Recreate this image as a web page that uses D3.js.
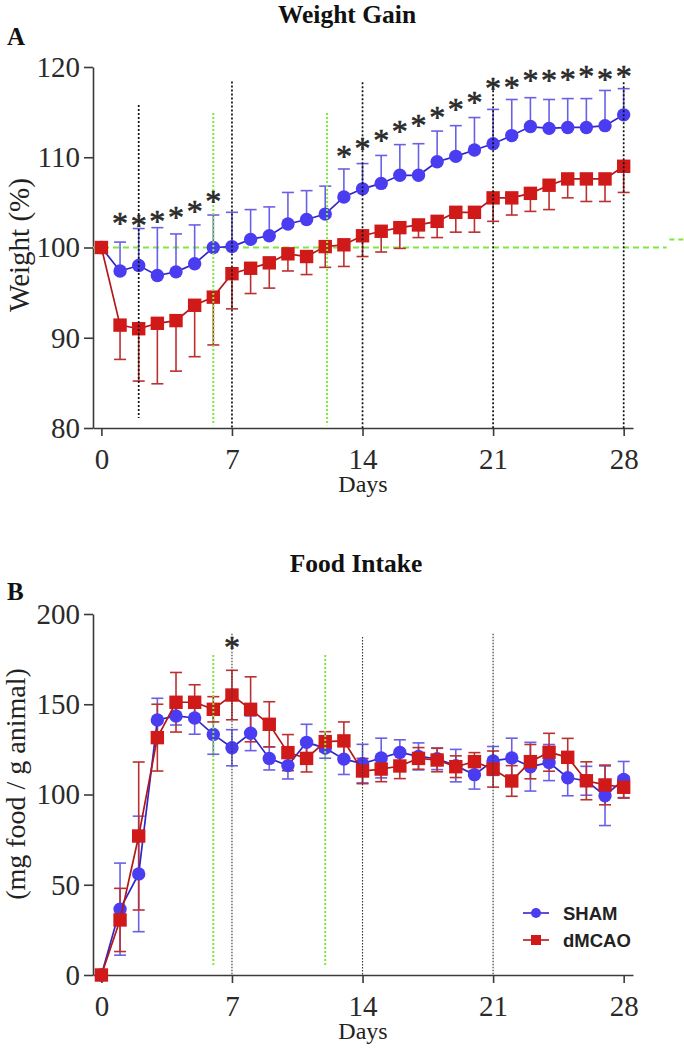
<!DOCTYPE html>
<html>
<head>
<meta charset="utf-8">
<script src="https://cdn.jsdelivr.net/npm/d3@7"></script>
<style>
  html, body { margin: 0; padding: 0; background: #fff; }
  svg { display: block; }
</style>
</head>
<body>
<svg id="chart" width="684" height="1050"></svg>
<script>
// ---------------- DATA ----------------
const days = [0,1,2,3,4,5,6,7,8,9,10,11,12,13,14,15,16,17,18,19,20,21,22,23,24,25,26,27,28];
const xTicks = [0, 7, 14, 21, 28];
const seriesNames = ["SHAM", "dMCAO"];

// Panel A: Weight (%)
const weightSham = [100, 97.4, 98.0, 96.9, 97.3, 98.2, 100.0, 100.1, 100.9, 101.3, 102.6, 103.1, 103.7, 105.6, 106.5, 107.1, 108.0, 108.0, 109.5, 110.1, 110.8, 111.5, 112.4, 113.4, 113.2, 113.3, 113.3, 113.5, 114.7];
const weightShamErr = [0, 3.2, 4.1, 5.3, 4.2, 4.3, 3.6, 3.8, 3.3, 3.2, 3.5, 3.2, 3.1, 3.1, 2.8, 3.1, 3.4, 3.5, 3.4, 3.4, 3.6, 3.8, 4.0, 3.2, 3.2, 3.2, 3.2, 3.9, 2.9];
const weightMcao = [100, 91.4, 91.0, 91.6, 91.9, 93.6, 94.5, 97.1, 97.7, 98.3, 99.3, 99.0, 100.1, 100.3, 101.3, 101.8, 102.2, 102.5, 102.9, 103.9, 103.9, 105.5, 105.5, 106.0, 106.9, 107.6, 107.6, 107.6, 109.0];
const weightMcaoErr = [0, 3.8, 5.8, 6.7, 5.6, 5.7, 5.3, 3.9, 2.8, 2.8, 1.9, 2.0, 2.3, 2.4, 2.3, 2.3, 2.3, 1.4, 1.8, 2.2, 2.2, 2.6, 1.9, 2.0, 2.7, 2.1, 2.5, 2.5, 2.9];
const weightTicks = [80, 90, 100, 110, 120];
const weightSigDays = [1, 2, 3, 4, 5, 6, 13, 14, 15, 16, 17, 18, 19, 20, 21, 22, 23, 24, 25, 26, 27, 28];
const weightSigLevel = [103.2, 103.0, 103.4, 103.9, 104.5, 105.6, 110.6, 111.5, 112.4, 113.4, 114.1, 115.0, 115.9, 116.6, 118.2, 118.3, 119.1, 119.1, 119.2, 119.5, 119.2, 119.5];
const weightBlackLineDays = [2, 7, 14, 21, 28];
const weightBlackLineTop = [115.8, 118.4, 118.3, 118.3, 118.3];
const weightBlackLineBottom = [81.1, 80, 80, 80, 80];
const weightGreenLineDays = [6, 12.1];
const weightGreenTop = 114.9, weightGreenBottom = 80.3;
const weightBaseline = 100;
const weightBaselineSpan = [-0.45, 30.3];
const weightBaselineStub = [30.45, 31.2, 100.9];

// Panel B: Food intake (mg food / g animal)
const foodSham = [0, 36.5, 56.0, 141.3, 143.5, 142.4, 133.3, 125.9, 133.9, 120.0, 116.0, 128.9, 125.7, 119.6, 117.1, 120.2, 123.3, 121.1, 119.8, 116.0, 111.0, 118.6, 120.2, 115.4, 117.7, 109.3, 107.6, 99.3, 108.3];
const foodShamErr = [0, 25.5, 32, 12, 5, 9, 11, 10, 9.6, 6.4, 7.4, 10, 5.6, 8.5, 10.7, 11, 7, 7.5, 6, 9, 8, 8, 11, 13.5, 10, 10, 8, 16.5, 10];
const foodMcao = [0, 30.5, 77.0, 131.5, 151.1, 151.1, 147.2, 155.1, 147.2, 138.9, 123.2, 120.0, 129.3, 129.7, 113.0, 114.1, 115.8, 120.0, 119.1, 115.4, 118.2, 114.1, 107.5, 118.2, 123.4, 120.6, 107.6, 105.3, 104.0];
const foodMcaoErr = [0, 17.5, 41, 18.5, 16.5, 9.7, 7, 13.7, 18, 12.5, 10, 7.5, 5.5, 10.5, 7, 7, 7, 6, 6.5, 6, 5, 10, 8.5, 9.5, 10.5, 10.5, 10.5, 11, 6];
const foodTicks = [0, 50, 100, 150, 200];
const foodSigDays = [7];
const foodSigLevel = [184];
const foodBlackLineDays = [7, 14, 21];
const foodBlackLineTop = [189, 187.3, 189];
const foodGreenLineDays = [6, 12];
const foodGreenTop = 177.3, foodGreenBottom = 5;

// ---------------- STYLE ----------------
const SERIF = "'Liberation Serif', 'Times New Roman', serif";
const SANS = "'Liberation Sans', Arial, sans-serif";
const BLUE = "#4a3cf0", BLUE_LINE = "#3326c8", BLUE_ERR = "#6a60e6";
const RED = "#d01a1a", RED_LINE = "#b21818", RED_ERR = "#bb3030";
const GREEN = "#7ee83c";
const AXIS = "#3a3a3a";

const svg = d3.select("#chart");

function panel(cfg) {
  const x = d3.scaleLinear().domain([-0.45, 28.5]).range([93, 633]);
  const y = d3.scaleLinear().domain(cfg.yDomain).range([cfg.yBottom, cfg.yTop]);
  const g = svg.append("g");

  // Title and panel letter
  g.append("text").attr("x", cfg.titleX).attr("y", cfg.titleY)
    .attr("text-anchor", "middle").attr("font-family", SERIF)
    .attr("font-weight", "bold").attr("font-size", 25.5).attr("fill", "#111")
    .text(cfg.title);
  g.append("text").attr("x", 7).attr("y", cfg.letterY)
    .attr("font-family", SERIF).attr("font-weight", "bold")
    .attr("font-size", 25).attr("fill", "#111").text(cfg.letter);

  // Axes
  const yAxis = g.append("g").attr("transform", "translate(93,0)")
    .call(d3.axisLeft(y).tickValues(cfg.yTicks).tickSize(9).tickSizeOuter(0).tickPadding(4));
  const xAxis = g.append("g").attr("transform", `translate(0,${cfg.yBottom})`)
    .call(d3.axisBottom(x).tickValues(xTicks).tickSize(8).tickSizeOuter(0).tickPadding(12));
  [yAxis, xAxis].forEach(a => {
    a.selectAll("path, line").attr("stroke", AXIS).attr("stroke-width", 1.6);
    a.selectAll("text").attr("font-family", SERIF).attr("font-size", 29).attr("fill", "#2a2a2a");
  });

  // Axis titles
  g.append("text").attr("x", 363).attr("y", cfg.yBottom + 64)
    .attr("text-anchor", "middle").attr("font-family", SERIF)
    .attr("font-size", 24).attr("fill", "#222").text("Days");
  g.append("text")
    .attr("transform", `translate(${cfg.yLabelX},${cfg.yLabelY}) rotate(-90)`)
    .attr("text-anchor", "middle").attr("font-family", SERIF)
    .attr("font-size", cfg.yLabelSize).attr("fill", "#222").text(cfg.yLabel);

  // horizontal baseline (panel A)
  if (cfg.baseline !== undefined) {
    g.append("line")
      .attr("x1", x(cfg.baselineSpan[0])).attr("x2", x(cfg.baselineSpan[1]))
      .attr("y1", y(cfg.baseline)).attr("y2", y(cfg.baseline))
      .attr("stroke", GREEN).attr("stroke-width", 2.2).attr("stroke-dasharray", "6,4");
    g.append("line")
      .attr("x1", x(cfg.baselineStub[0])).attr("x2", x(cfg.baselineStub[1]))
      .attr("y1", y(cfg.baselineStub[2])).attr("y2", y(cfg.baselineStub[2]))
      .attr("stroke", GREEN).attr("stroke-width", 2).attr("stroke-dasharray", "5,4");
  }

  const series = [
    { name: seriesNames[0], mean: cfg.sham, err: cfg.shamErr, dir: cfg.shamDir, color: BLUE, line: BLUE_LINE, errc: BLUE_ERR, shape: "circle" },
    { name: seriesNames[1], mean: cfg.mcao, err: cfg.mcaoErr, dir: cfg.mcaoDir, color: RED, line: RED_LINE, errc: RED_ERR, shape: "square" }
  ];

  series.forEach(s => {
    const pts = days.map((d, i) => ({ day: d, v: s.mean[i], e: s.err[i] }));
    const eb = g.append("g").attr("stroke", s.errc).attr("stroke-width", 1.6).attr("fill", "none");
    pts.filter(p => p.e > 0).forEach(p => {
      const up = s.dir.includes("up") ? p.v + p.e : p.v;
      const lo = s.dir.includes("down") ? p.v - p.e : p.v;
      eb.append("line").attr("x1", x(p.day)).attr("x2", x(p.day)).attr("y1", y(up)).attr("y2", y(lo));
      if (s.dir.includes("up"))
        eb.append("line").attr("x1", x(p.day) - 6).attr("x2", x(p.day) + 6).attr("y1", y(up)).attr("y2", y(up));
      if (s.dir.includes("down"))
        eb.append("line").attr("x1", x(p.day) - 6).attr("x2", x(p.day) + 6).attr("y1", y(lo)).attr("y2", y(lo));
    });
    s.pts = pts;
  });

  series.forEach(s => {
    g.append("path").datum(s.pts)
      .attr("d", d3.line().x(p => x(p.day)).y(p => y(p.v)))
      .attr("fill", "none").attr("stroke", s.line).attr("stroke-width", 1.7);
    if (s.shape === "circle") {
      g.append("g").selectAll("circle").data(s.pts).join("circle")
        .attr("cx", p => x(p.day)).attr("cy", p => y(p.v)).attr("r", 6.7)
        .attr("fill", s.color);
    } else {
      g.append("g").selectAll("rect").data(s.pts).join("rect")
        .attr("x", p => x(p.day) - 6.7).attr("y", p => y(p.v) - 6.7)
        .attr("width", 13.4).attr("height", 13.4).attr("fill", s.color);
    }
  });

  // vertical reference lines
  cfg.greenDays.forEach(d => {
    g.append("line").attr("x1", x(d)).attr("x2", x(d))
      .attr("y1", y(cfg.greenTop)).attr("y2", y(cfg.greenBottom))
      .attr("stroke", GREEN).attr("stroke-width", 2).attr("stroke-dasharray", "2,2");
  });
  cfg.blackDays.forEach((d, i) => {
    g.append("line").attr("x1", x(d)).attr("x2", x(d))
      .attr("y1", y(cfg.blackTop[i])).attr("y2", y(cfg.blackBottom ? cfg.blackBottom[i] : cfg.yDomain[0]))
      .attr("stroke", cfg.blackColor).attr("stroke-width", cfg.blackWidth).attr("stroke-dasharray", cfg.blackDash);
  });

  // significance asterisks
  cfg.sigDays.forEach((d, i) => {
    g.append("text").attr("x", x(d)).attr("y", y(cfg.sigLevel[i]) + 15.5)
      .attr("text-anchor", "middle").attr("font-family", SERIF)
      .attr("font-size", 32).attr("fill", "#2a2a2a")
      .attr("stroke", "#2a2a2a").attr("stroke-width", 0.6).text("*");
  });

  return { g, x, y };
}

panel({
  title: "Weight Gain", titleX: 347, titleY: 23, letter: "A", letterY: 45,
  yDomain: [80, 120], yTop: 67, yBottom: 428, yTicks: weightTicks,
  yLabel: "Weight (%)", yLabelX: 29, yLabelY: 245, yLabelSize: 29,
  sham: weightSham, shamErr: weightShamErr, shamDir: ["up"],
  mcao: weightMcao, mcaoErr: weightMcaoErr, mcaoDir: ["down"],
  baseline: weightBaseline, baselineSpan: weightBaselineSpan, baselineStub: weightBaselineStub,
  greenDays: weightGreenLineDays, greenTop: weightGreenTop, greenBottom: weightGreenBottom,
  blackDays: weightBlackLineDays, blackTop: weightBlackLineTop, blackBottom: weightBlackLineBottom,
  blackColor: "#111", blackWidth: 1.7, blackDash: "2,2",
  sigDays: weightSigDays, sigLevel: weightSigLevel
});

panel({
  title: "Food Intake", titleX: 356, titleY: 572, letter: "B", letterY: 600,
  yDomain: [0, 200], yTop: 614, yBottom: 975, yTicks: foodTicks,
  yLabel: "(mg food / g animal)", yLabelX: 25, yLabelY: 784, yLabelSize: 28,
  sham: foodSham, shamErr: foodShamErr, shamDir: ["up", "down"],
  mcao: foodMcao, mcaoErr: foodMcaoErr, mcaoDir: ["up", "down"],
  greenDays: foodGreenLineDays, greenTop: foodGreenTop, greenBottom: foodGreenBottom,
  blackDays: foodBlackLineDays, blackTop: foodBlackLineTop,
  blackColor: "#333", blackWidth: 1.1, blackDash: "1.5,1.5",
  sigDays: foodSigDays, sigLevel: foodSigLevel
});

// Legend (panel B)
const legend = svg.append("g");
const legendItems = [
  { name: seriesNames[0], color: BLUE, line: BLUE_LINE, shape: "circle", y: 913 },
  { name: seriesNames[1], color: RED, line: RED_LINE, shape: "square", y: 940 }
];
legendItems.forEach(it => {
  legend.append("line").attr("x1", 523).attr("x2", 549).attr("y1", it.y).attr("y2", it.y)
    .attr("stroke", it.line).attr("stroke-width", 1.6);
  if (it.shape === "circle")
    legend.append("circle").attr("cx", 536).attr("cy", it.y).attr("r", 5).attr("fill", it.color);
  else
    legend.append("rect").attr("x", 531).attr("y", it.y - 5).attr("width", 10).attr("height", 10).attr("fill", it.color);
  legend.append("text").attr("x", 563).attr("y", it.y + 7)
    .attr("font-family", SANS).attr("font-weight", "bold").attr("font-size", 18.5)
    .attr("fill", "#222").text(it.name);
});
</script>
</body>
</html>
